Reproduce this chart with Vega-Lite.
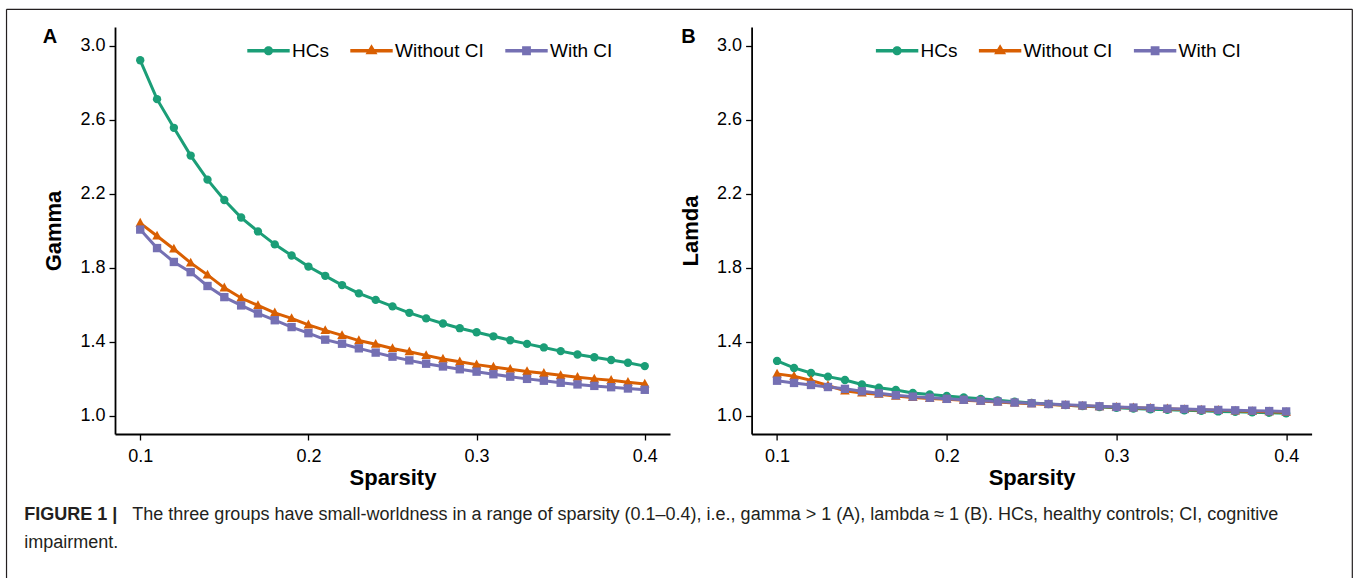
{
  "$schema": "https://vega.github.io/schema/vega-lite/v6.json",
  "autosize": {"type": "pad"},
  "padding": {"left": 5, "top": 8, "right": 0, "bottom": 0},
  "background": "white",
  "config": {
    "view": {"stroke": null},
    "font": "Liberation Sans",
    "axis": {"grid": false, "domainColor": "black", "domainWidth": 1.8, "tickColor": "black", "tickWidth": 1.3, "tickSize": 6, "labelFont": "Liberation Sans", "labelFontSize": 18, "labelColor": "black", "titleFont": "Liberation Sans", "titleFontSize": 22, "titleFontWeight": "bold", "titleColor": "black"},
    "axisX": {"labelPadding": 7, "titlePadding": 2},
    "axisY": {"labelPadding": 4, "titlePadding": 14}
  },
  "datasets": {
    "gamma": [
      {"sparsity": 0.10, "group": "HCs", "value": 2.92},
      {"sparsity": 0.11, "group": "HCs", "value": 2.71},
      {"sparsity": 0.12, "group": "HCs", "value": 2.555},
      {"sparsity": 0.13, "group": "HCs", "value": 2.405},
      {"sparsity": 0.14, "group": "HCs", "value": 2.275},
      {"sparsity": 0.15, "group": "HCs", "value": 2.165},
      {"sparsity": 0.16, "group": "HCs", "value": 2.07},
      {"sparsity": 0.17, "group": "HCs", "value": 1.995},
      {"sparsity": 0.18, "group": "HCs", "value": 1.925},
      {"sparsity": 0.19, "group": "HCs", "value": 1.865},
      {"sparsity": 0.20, "group": "HCs", "value": 1.805},
      {"sparsity": 0.21, "group": "HCs", "value": 1.755},
      {"sparsity": 0.22, "group": "HCs", "value": 1.705},
      {"sparsity": 0.23, "group": "HCs", "value": 1.66},
      {"sparsity": 0.24, "group": "HCs", "value": 1.625},
      {"sparsity": 0.25, "group": "HCs", "value": 1.59},
      {"sparsity": 0.26, "group": "HCs", "value": 1.555},
      {"sparsity": 0.27, "group": "HCs", "value": 1.525},
      {"sparsity": 0.28, "group": "HCs", "value": 1.497},
      {"sparsity": 0.29, "group": "HCs", "value": 1.472},
      {"sparsity": 0.30, "group": "HCs", "value": 1.45},
      {"sparsity": 0.31, "group": "HCs", "value": 1.428},
      {"sparsity": 0.32, "group": "HCs", "value": 1.407},
      {"sparsity": 0.33, "group": "HCs", "value": 1.387},
      {"sparsity": 0.34, "group": "HCs", "value": 1.368},
      {"sparsity": 0.35, "group": "HCs", "value": 1.348},
      {"sparsity": 0.36, "group": "HCs", "value": 1.33},
      {"sparsity": 0.37, "group": "HCs", "value": 1.315},
      {"sparsity": 0.38, "group": "HCs", "value": 1.3},
      {"sparsity": 0.39, "group": "HCs", "value": 1.285},
      {"sparsity": 0.40, "group": "HCs", "value": 1.267},
      {"sparsity": 0.10, "group": "Without CI", "value": 2.04},
      {"sparsity": 0.11, "group": "Without CI", "value": 1.97},
      {"sparsity": 0.12, "group": "Without CI", "value": 1.90},
      {"sparsity": 0.13, "group": "Without CI", "value": 1.825},
      {"sparsity": 0.14, "group": "Without CI", "value": 1.76},
      {"sparsity": 0.15, "group": "Without CI", "value": 1.69},
      {"sparsity": 0.16, "group": "Without CI", "value": 1.635},
      {"sparsity": 0.17, "group": "Without CI", "value": 1.595},
      {"sparsity": 0.18, "group": "Without CI", "value": 1.555},
      {"sparsity": 0.19, "group": "Without CI", "value": 1.525},
      {"sparsity": 0.20, "group": "Without CI", "value": 1.49},
      {"sparsity": 0.21, "group": "Without CI", "value": 1.46},
      {"sparsity": 0.22, "group": "Without CI", "value": 1.433},
      {"sparsity": 0.23, "group": "Without CI", "value": 1.405},
      {"sparsity": 0.24, "group": "Without CI", "value": 1.385},
      {"sparsity": 0.25, "group": "Without CI", "value": 1.362},
      {"sparsity": 0.26, "group": "Without CI", "value": 1.345},
      {"sparsity": 0.27, "group": "Without CI", "value": 1.325},
      {"sparsity": 0.28, "group": "Without CI", "value": 1.305},
      {"sparsity": 0.29, "group": "Without CI", "value": 1.29},
      {"sparsity": 0.30, "group": "Without CI", "value": 1.275},
      {"sparsity": 0.31, "group": "Without CI", "value": 1.262},
      {"sparsity": 0.32, "group": "Without CI", "value": 1.25},
      {"sparsity": 0.33, "group": "Without CI", "value": 1.238},
      {"sparsity": 0.34, "group": "Without CI", "value": 1.228},
      {"sparsity": 0.35, "group": "Without CI", "value": 1.217},
      {"sparsity": 0.36, "group": "Without CI", "value": 1.207},
      {"sparsity": 0.37, "group": "Without CI", "value": 1.198},
      {"sparsity": 0.38, "group": "Without CI", "value": 1.19},
      {"sparsity": 0.39, "group": "Without CI", "value": 1.18},
      {"sparsity": 0.40, "group": "Without CI", "value": 1.17},
      {"sparsity": 0.10, "group": "With CI", "value": 2.005},
      {"sparsity": 0.11, "group": "With CI", "value": 1.905},
      {"sparsity": 0.12, "group": "With CI", "value": 1.83},
      {"sparsity": 0.13, "group": "With CI", "value": 1.775},
      {"sparsity": 0.14, "group": "With CI", "value": 1.70},
      {"sparsity": 0.15, "group": "With CI", "value": 1.64},
      {"sparsity": 0.16, "group": "With CI", "value": 1.595},
      {"sparsity": 0.17, "group": "With CI", "value": 1.552},
      {"sparsity": 0.18, "group": "With CI", "value": 1.515},
      {"sparsity": 0.19, "group": "With CI", "value": 1.478},
      {"sparsity": 0.20, "group": "With CI", "value": 1.445},
      {"sparsity": 0.21, "group": "With CI", "value": 1.41},
      {"sparsity": 0.22, "group": "With CI", "value": 1.388},
      {"sparsity": 0.23, "group": "With CI", "value": 1.363},
      {"sparsity": 0.24, "group": "With CI", "value": 1.34},
      {"sparsity": 0.25, "group": "With CI", "value": 1.318},
      {"sparsity": 0.26, "group": "With CI", "value": 1.298},
      {"sparsity": 0.27, "group": "With CI", "value": 1.28},
      {"sparsity": 0.28, "group": "With CI", "value": 1.265},
      {"sparsity": 0.29, "group": "With CI", "value": 1.25},
      {"sparsity": 0.30, "group": "With CI", "value": 1.237},
      {"sparsity": 0.31, "group": "With CI", "value": 1.223},
      {"sparsity": 0.32, "group": "With CI", "value": 1.21},
      {"sparsity": 0.33, "group": "With CI", "value": 1.198},
      {"sparsity": 0.34, "group": "With CI", "value": 1.188},
      {"sparsity": 0.35, "group": "With CI", "value": 1.177},
      {"sparsity": 0.36, "group": "With CI", "value": 1.168},
      {"sparsity": 0.37, "group": "With CI", "value": 1.16},
      {"sparsity": 0.38, "group": "With CI", "value": 1.153},
      {"sparsity": 0.39, "group": "With CI", "value": 1.146},
      {"sparsity": 0.40, "group": "With CI", "value": 1.139}
    ],
    "lamda": [
      {"sparsity": 0.10, "group": "HCs", "value": 1.295},
      {"sparsity": 0.11, "group": "HCs", "value": 1.257},
      {"sparsity": 0.12, "group": "HCs", "value": 1.23},
      {"sparsity": 0.13, "group": "HCs", "value": 1.21},
      {"sparsity": 0.14, "group": "HCs", "value": 1.192},
      {"sparsity": 0.15, "group": "HCs", "value": 1.168},
      {"sparsity": 0.16, "group": "HCs", "value": 1.15},
      {"sparsity": 0.17, "group": "HCs", "value": 1.138},
      {"sparsity": 0.18, "group": "HCs", "value": 1.122},
      {"sparsity": 0.19, "group": "HCs", "value": 1.114},
      {"sparsity": 0.20, "group": "HCs", "value": 1.106},
      {"sparsity": 0.21, "group": "HCs", "value": 1.098},
      {"sparsity": 0.22, "group": "HCs", "value": 1.09},
      {"sparsity": 0.23, "group": "HCs", "value": 1.082},
      {"sparsity": 0.24, "group": "HCs", "value": 1.075},
      {"sparsity": 0.25, "group": "HCs", "value": 1.068},
      {"sparsity": 0.26, "group": "HCs", "value": 1.062},
      {"sparsity": 0.27, "group": "HCs", "value": 1.056},
      {"sparsity": 0.28, "group": "HCs", "value": 1.051},
      {"sparsity": 0.29, "group": "HCs", "value": 1.046},
      {"sparsity": 0.30, "group": "HCs", "value": 1.042},
      {"sparsity": 0.31, "group": "HCs", "value": 1.038},
      {"sparsity": 0.32, "group": "HCs", "value": 1.034},
      {"sparsity": 0.33, "group": "HCs", "value": 1.031},
      {"sparsity": 0.34, "group": "HCs", "value": 1.028},
      {"sparsity": 0.35, "group": "HCs", "value": 1.025},
      {"sparsity": 0.36, "group": "HCs", "value": 1.022},
      {"sparsity": 0.37, "group": "HCs", "value": 1.02},
      {"sparsity": 0.38, "group": "HCs", "value": 1.017},
      {"sparsity": 0.39, "group": "HCs", "value": 1.015},
      {"sparsity": 0.40, "group": "HCs", "value": 1.012},
      {"sparsity": 0.10, "group": "Without CI", "value": 1.225},
      {"sparsity": 0.11, "group": "Without CI", "value": 1.212},
      {"sparsity": 0.12, "group": "Without CI", "value": 1.19},
      {"sparsity": 0.13, "group": "Without CI", "value": 1.162},
      {"sparsity": 0.14, "group": "Without CI", "value": 1.133},
      {"sparsity": 0.15, "group": "Without CI", "value": 1.122},
      {"sparsity": 0.16, "group": "Without CI", "value": 1.115},
      {"sparsity": 0.17, "group": "Without CI", "value": 1.105},
      {"sparsity": 0.18, "group": "Without CI", "value": 1.097},
      {"sparsity": 0.19, "group": "Without CI", "value": 1.092},
      {"sparsity": 0.20, "group": "Without CI", "value": 1.088},
      {"sparsity": 0.21, "group": "Without CI", "value": 1.083},
      {"sparsity": 0.22, "group": "Without CI", "value": 1.078},
      {"sparsity": 0.23, "group": "Without CI", "value": 1.073},
      {"sparsity": 0.24, "group": "Without CI", "value": 1.068},
      {"sparsity": 0.25, "group": "Without CI", "value": 1.064},
      {"sparsity": 0.26, "group": "Without CI", "value": 1.06},
      {"sparsity": 0.27, "group": "Without CI", "value": 1.056},
      {"sparsity": 0.28, "group": "Without CI", "value": 1.052},
      {"sparsity": 0.29, "group": "Without CI", "value": 1.048},
      {"sparsity": 0.30, "group": "Without CI", "value": 1.045},
      {"sparsity": 0.31, "group": "Without CI", "value": 1.042},
      {"sparsity": 0.32, "group": "Without CI", "value": 1.039},
      {"sparsity": 0.33, "group": "Without CI", "value": 1.036},
      {"sparsity": 0.34, "group": "Without CI", "value": 1.033},
      {"sparsity": 0.35, "group": "Without CI", "value": 1.03},
      {"sparsity": 0.36, "group": "Without CI", "value": 1.028},
      {"sparsity": 0.37, "group": "Without CI", "value": 1.025},
      {"sparsity": 0.38, "group": "Without CI", "value": 1.022},
      {"sparsity": 0.39, "group": "Without CI", "value": 1.02},
      {"sparsity": 0.40, "group": "Without CI", "value": 1.018},
      {"sparsity": 0.10, "group": "With CI", "value": 1.188},
      {"sparsity": 0.11, "group": "With CI", "value": 1.176},
      {"sparsity": 0.12, "group": "With CI", "value": 1.165},
      {"sparsity": 0.13, "group": "With CI", "value": 1.154},
      {"sparsity": 0.14, "group": "With CI", "value": 1.144},
      {"sparsity": 0.15, "group": "With CI", "value": 1.131},
      {"sparsity": 0.16, "group": "With CI", "value": 1.12},
      {"sparsity": 0.17, "group": "With CI", "value": 1.11},
      {"sparsity": 0.18, "group": "With CI", "value": 1.102},
      {"sparsity": 0.19, "group": "With CI", "value": 1.096},
      {"sparsity": 0.20, "group": "With CI", "value": 1.09},
      {"sparsity": 0.21, "group": "With CI", "value": 1.085},
      {"sparsity": 0.22, "group": "With CI", "value": 1.08},
      {"sparsity": 0.23, "group": "With CI", "value": 1.075},
      {"sparsity": 0.24, "group": "With CI", "value": 1.07},
      {"sparsity": 0.25, "group": "With CI", "value": 1.066},
      {"sparsity": 0.26, "group": "With CI", "value": 1.062},
      {"sparsity": 0.27, "group": "With CI", "value": 1.058},
      {"sparsity": 0.28, "group": "With CI", "value": 1.054},
      {"sparsity": 0.29, "group": "With CI", "value": 1.05},
      {"sparsity": 0.30, "group": "With CI", "value": 1.046},
      {"sparsity": 0.31, "group": "With CI", "value": 1.043},
      {"sparsity": 0.32, "group": "With CI", "value": 1.04},
      {"sparsity": 0.33, "group": "With CI", "value": 1.037},
      {"sparsity": 0.34, "group": "With CI", "value": 1.035},
      {"sparsity": 0.35, "group": "With CI", "value": 1.032},
      {"sparsity": 0.36, "group": "With CI", "value": 1.03},
      {"sparsity": 0.37, "group": "With CI", "value": 1.028},
      {"sparsity": 0.38, "group": "With CI", "value": 1.026},
      {"sparsity": 0.39, "group": "With CI", "value": 1.024},
      {"sparsity": 0.40, "group": "With CI", "value": 1.022}
    ],
    "frame": [{"side": "left"}, {"side": "top"}, {"side": "right"}],
    "caption": [
      {"part": "FIGURE 1 |", "weight": "bold", "line": 1},
      {"part": "The three groups have small-worldness in a range of sparsity (0.1–0.4), i.e., gamma > 1 (A), lambda ≈ 1 (B). HCs, healthy controls; CI, cognitive", "weight": "normal", "line": 1},
      {"part": "impairment.", "weight": "normal", "line": 2}
    ]
  },
  "hconcat": [
    {
      "width": 555,
      "height": 407,
      "data": {"name": "gamma"},
      "layer": [
        {
          "mark": {"type": "line", "strokeWidth": 3},
          "encoding": {
            "x": {"field": "sparsity", "type": "quantitative", "title": "Sparsity", "scale": {"domain": [0.085, 0.415], "nice": false, "zero": false}, "axis": {"values": [0.1, 0.2, 0.3, 0.4], "format": ".1f"}},
            "y": {"field": "value", "type": "quantitative", "title": "Gamma", "scale": {"domain": [0.9, 3.1], "nice": false, "zero": false}, "axis": {"values": [1.0, 1.4, 1.8, 2.2, 2.6, 3.0], "format": ".1f"}},
            "color": {"field": "group", "type": "nominal", "scale": {"domain": ["HCs", "Without CI", "With CI"], "range": ["#1b9e77", "#d95f02", "#7570b3"]},
              "legend": {"title": null, "orient": "none", "legendX": 144, "legendY": 14, "direction": "horizontal", "padding": 0, "symbolSize": 64, "symbolStrokeWidth": 0, "labelFont": "Liberation Sans", "labelFontSize": 19, "labelColor": "black", "labelOffset": 14, "columnPadding": 21,
                "encode": {"symbols": {"update": {"shape": {"signal": "datum.value === 'HCs' ? 'M-5.3,-0.45H5.3V0.45H-5.3Z M1.15,0A1.15,1.15,0,1,1,-1.15,0A1.15,1.15,0,1,1,1.15,0Z' : datum.value === 'Without CI' ? 'M-5.3,-0.45H5.3V0.45H-5.3Z M0,-1.6L1.5,0.9L-1.5,0.9Z' : 'M-5.3,-0.45H5.3V0.45H-5.3Z M-1.1,-1.1H1.1V1.1H-1.1Z'"}, "fill": {"signal": "datum.value === 'HCs' ? '#1b9e77' : datum.value === 'Without CI' ? '#d95f02' : '#7570b3'"}, "strokeWidth": {"value": 0}, "opacity": {"value": 1}}}}}}
          }
        },
        {
          "transform": [{"filter": "datum.group === 'HCs'"}],
          "mark": {"type": "point", "shape": "circle", "filled": true, "opacity": 1, "size": 70, "strokeWidth": 0, "color": "#1b9e77"},
          "encoding": {"x": {"field": "sparsity", "type": "quantitative"}, "y": {"field": "value", "type": "quantitative"}}
        },
        {
          "transform": [{"filter": "datum.group === 'Without CI'"}],
          "mark": {"type": "point", "shape": "M0,-1.25L1.15,0.85L-1.15,0.85Z", "filled": true, "opacity": 1, "size": 70, "strokeWidth": 0, "color": "#d95f02"},
          "encoding": {"x": {"field": "sparsity", "type": "quantitative"}, "y": {"field": "value", "type": "quantitative"}}
        },
        {
          "transform": [{"filter": "datum.group === 'With CI'"}],
          "mark": {"type": "point", "shape": "square", "filled": true, "opacity": 1, "size": 70, "strokeWidth": 0, "color": "#7570b3"},
          "encoding": {"x": {"field": "sparsity", "type": "quantitative"}, "y": {"field": "value", "type": "quantitative"}}
        },
        {
          "data": {"values": [{"panel": "A"}]},
          "mark": {"type": "text", "text": "A", "align": "left", "baseline": "middle", "fontSize": 20, "fontWeight": "bold", "color": "black", "font": "Liberation Sans"},
          "encoding": {"x": {"datum": 0.042, "type": "quantitative"}, "y": {"datum": 3.045, "type": "quantitative"}}
        },
        {
          "data": {"name": "frame"},
          "transform": [{"filter": "datum.side === 'left'"}],
          "mark": {"type": "rule", "color": "#231f20", "strokeWidth": 1.2},
          "encoding": {"x": {"datum": 0.0205, "type": "quantitative"}, "y": {"datum": 3.1957, "type": "quantitative"}, "y2": {"datum": 0.1216}}
        },
        {
          "data": {"name": "frame"},
          "transform": [{"filter": "datum.side === 'top'"}],
          "mark": {"type": "rule", "color": "#231f20", "strokeWidth": 1.2},
          "encoding": {"x": {"datum": 0.0205, "type": "quantitative"}, "x2": {"datum": 0.8207}, "y": {"datum": 3.1957, "type": "quantitative"}}
        },
        {
          "data": {"name": "frame"},
          "transform": [{"filter": "datum.side === 'right'"}],
          "mark": {"type": "rule", "color": "#231f20", "strokeWidth": 1.2},
          "encoding": {"x": {"datum": 0.8207, "type": "quantitative"}, "y": {"datum": 3.1957, "type": "quantitative"}, "y2": {"datum": 0.1216}}
        },
        {
          "data": {"name": "caption"},
          "transform": [{"filter": "datum.weight === 'bold'"}],
          "mark": {"type": "text", "align": "left", "baseline": "middle", "fontSize": 18, "fontWeight": "bold", "color": "#231f20", "font": "Liberation Sans"},
          "encoding": {"x": {"datum": 0.0311, "type": "quantitative"}, "y": {"datum": 0.4622, "type": "quantitative"}, "text": {"field": "part"}}
        },
        {
          "data": {"name": "caption"},
          "transform": [{"filter": "datum.weight === 'normal' && datum.line === 1"}],
          "mark": {"type": "text", "align": "left", "baseline": "middle", "fontSize": 18, "color": "#231f20", "font": "Liberation Sans"},
          "encoding": {"x": {"datum": 0.0953, "type": "quantitative"}, "y": {"datum": 0.4622, "type": "quantitative"}, "text": {"field": "part"}}
        },
        {
          "data": {"name": "caption"},
          "transform": [{"filter": "datum.line === 2"}],
          "mark": {"type": "text", "align": "left", "baseline": "middle", "fontSize": 18, "color": "#231f20", "font": "Liberation Sans"},
          "encoding": {"x": {"datum": 0.0311, "type": "quantitative"}, "y": {"datum": 0.3108, "type": "quantitative"}, "text": {"field": "part"}}
        }
      ]
    },
    {
      "width": 560,
      "height": 407,
      "data": {"name": "lamda"},
      "layer": [
        {
          "mark": {"type": "line", "strokeWidth": 3},
          "encoding": {
            "x": {"field": "sparsity", "type": "quantitative", "title": "Sparsity", "scale": {"domain": [0.085, 0.415], "nice": false, "zero": false}, "axis": {"values": [0.1, 0.2, 0.3, 0.4], "format": ".1f"}},
            "y": {"field": "value", "type": "quantitative", "title": "Lamda", "scale": {"domain": [0.9, 3.1], "nice": false, "zero": false}, "axis": {"values": [1.0, 1.4, 1.8, 2.2, 2.6, 3.0], "format": ".1f"}},
            "color": {"field": "group", "type": "nominal", "scale": {"domain": ["HCs", "Without CI", "With CI"], "range": ["#1b9e77", "#d95f02", "#7570b3"]},
              "legend": {"title": null, "orient": "none", "legendX": 136, "legendY": 14, "direction": "horizontal", "padding": 0, "symbolSize": 64, "symbolStrokeWidth": 0, "labelFont": "Liberation Sans", "labelFontSize": 19, "labelColor": "black", "labelOffset": 14, "columnPadding": 21,
                "encode": {"symbols": {"update": {"shape": {"signal": "datum.value === 'HCs' ? 'M-5.3,-0.45H5.3V0.45H-5.3Z M1.15,0A1.15,1.15,0,1,1,-1.15,0A1.15,1.15,0,1,1,1.15,0Z' : datum.value === 'Without CI' ? 'M-5.3,-0.45H5.3V0.45H-5.3Z M0,-1.6L1.5,0.9L-1.5,0.9Z' : 'M-5.3,-0.45H5.3V0.45H-5.3Z M-1.1,-1.1H1.1V1.1H-1.1Z'"}, "fill": {"signal": "datum.value === 'HCs' ? '#1b9e77' : datum.value === 'Without CI' ? '#d95f02' : '#7570b3'"}, "strokeWidth": {"value": 0}, "opacity": {"value": 1}}}}}}
          }
        },
        {
          "transform": [{"filter": "datum.group === 'HCs'"}],
          "mark": {"type": "point", "shape": "circle", "filled": true, "opacity": 1, "size": 70, "strokeWidth": 0, "color": "#1b9e77"},
          "encoding": {"x": {"field": "sparsity", "type": "quantitative"}, "y": {"field": "value", "type": "quantitative"}}
        },
        {
          "transform": [{"filter": "datum.group === 'Without CI'"}],
          "mark": {"type": "point", "shape": "M0,-1.25L1.15,0.85L-1.15,0.85Z", "filled": true, "opacity": 1, "size": 70, "strokeWidth": 0, "color": "#d95f02"},
          "encoding": {"x": {"field": "sparsity", "type": "quantitative"}, "y": {"field": "value", "type": "quantitative"}}
        },
        {
          "transform": [{"filter": "datum.group === 'With CI'"}],
          "mark": {"type": "point", "shape": "square", "filled": true, "opacity": 1, "size": 70, "strokeWidth": 0, "color": "#7570b3"},
          "encoding": {"x": {"field": "sparsity", "type": "quantitative"}, "y": {"field": "value", "type": "quantitative"}}
        },
        {
          "data": {"values": [{"panel": "B"}]},
          "mark": {"type": "text", "text": "B", "align": "left", "baseline": "middle", "fontSize": 20, "fontWeight": "bold", "color": "black", "font": "Liberation Sans"},
          "encoding": {"x": {"datum": 0.0436, "type": "quantitative"}, "y": {"datum": 3.045, "type": "quantitative"}}
        }
      ]
    }
  ],
  "bounds": "flush",
  "spacing": 81.6,
  "resolve": {"scale": {"color": "independent"}, "legend": {"color": "independent"}}
}
